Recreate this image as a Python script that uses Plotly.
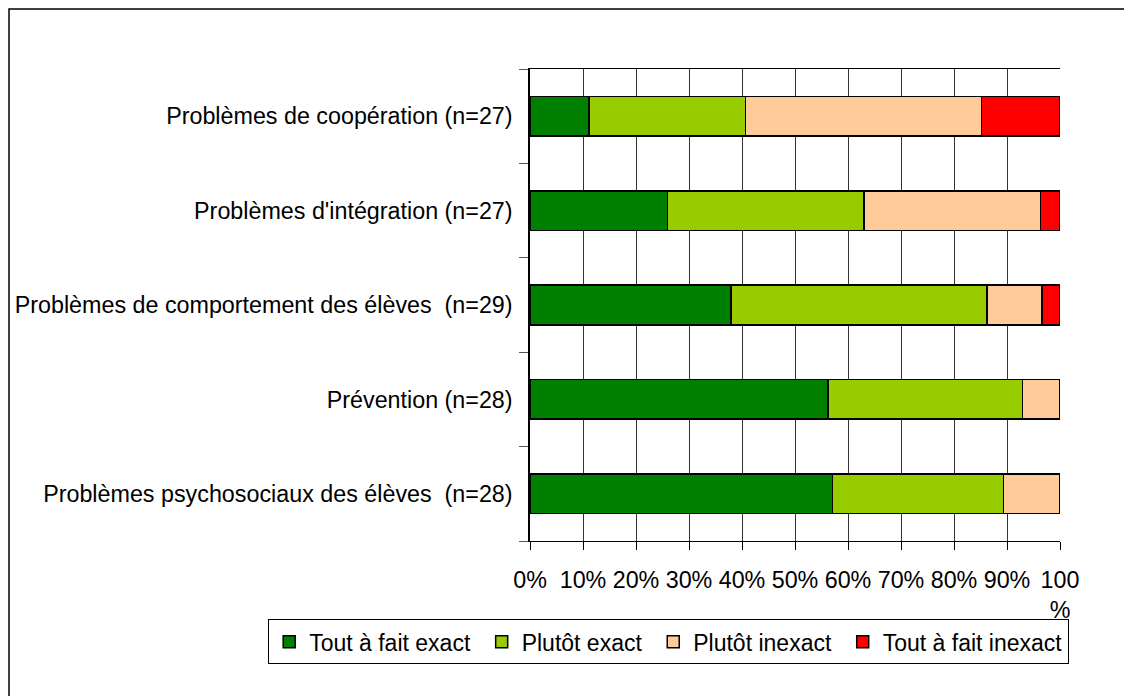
import plotly.graph_objects as go

# Données (en % des réponses), de haut en bas
categories = [
    "Problèmes de coopération (n=27)",
    "Problèmes d'intégration (n=27)",
    "Problèmes de comportement des élèves  (n=29)",
    "Prévention (n=28)",
    "Problèmes psychosociaux des élèves  (n=28)",
]
tout_exact = [11.1, 25.9, 37.9, 56.2, 57.1]
plutot_exact = [29.6, 37.1, 48.3, 36.7, 32.2]
plutot_inexact = [44.5, 33.3, 10.4, 7.1, 10.7]
tout_inexact = [14.8, 3.7, 3.4, 0, 0]

# l'espace insécable ajoute un peu d'écart entre les entrées de légende
series = [
    ("Tout à fait exact\u00a0", tout_exact, "#008000"),
    ("Plutôt exact\u00a0", plutot_exact, "#99CC00"),
    ("Plutôt inexact\u00a0", plutot_inexact, "#FFCC99"),
    ("Tout à fait inexact", tout_inexact, "#FF0000"),
]

tick_vals = list(range(0, 101, 10))
tick_text = [f"{v}%" for v in range(0, 100, 10)] + ["100<br>%"]

FONT = "Liberation Sans, Arial, sans-serif"

fig = go.Figure()
for name, vals, color in series:
    fig.add_trace(go.Bar(
        y=categories,
        x=vals,
        name=name,
        orientation="h",
        marker=dict(color=color, line=dict(color="black", width=1.5)),
    ))

fig.update_layout(
    width=1132,
    height=696,
    barmode="stack",
    bargap=0.58,
    paper_bgcolor="white",
    plot_bgcolor="white",
    font=dict(family=FONT, size=23.3, color="black"),
    margin=dict(l=522, r=80, t=61, b=163),
    showlegend=True,
    legend=dict(
        orientation="h",
        x=-0.494, xanchor="left",
        y=-0.166, yanchor="top",
        bordercolor="black",
        borderwidth=1,
        font=dict(size=23),
        traceorder="normal",
    ),
)

fig.update_xaxes(
    range=[0, 100],
    tickvals=tick_vals,
    ticktext=tick_text,
    showgrid=True,
    gridcolor="#333333",
    gridwidth=1,
    showline=True,
    linecolor="black",
    linewidth=1,
    mirror=True,
    ticks="outside",
    ticklen=8,
    tickcolor="black",
    ticklabelstandoff=10,
    zeroline=False,
    automargin=False,
)

fig.update_yaxes(
    categoryorder="array",
    categoryarray=categories[::-1],
    showline=True,
    linecolor="black",
    linewidth=1.5,
    ticks="outside",
    tickson="boundaries",
    ticklen=9,
    tickcolor="#555555",
    ticklabelstandoff=11,
    showgrid=False,
    automargin=False,
)

# cadre extérieur du graphique
fig.add_shape(
    type="rect", xref="paper", yref="paper",
    x0=-0.983, x1=1.5, y0=-0.5, y1=1.127,
    line=dict(color="black", width=1.5),
    fillcolor="rgba(0,0,0,0)",
    layer="below",
)

fig.write_html("out.html")
